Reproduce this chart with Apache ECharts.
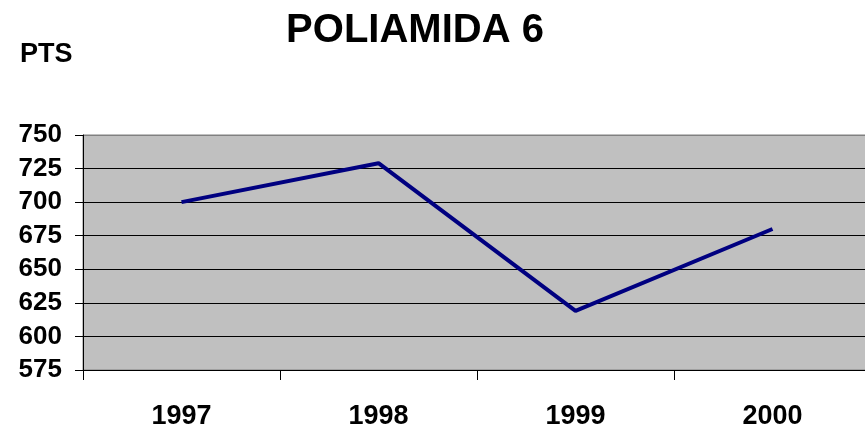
<!DOCTYPE html>
<html>
<head>
<meta charset="utf-8">
<title>POLIAMIDA 6</title>
<script src="https://cdn.jsdelivr.net/npm/echarts@6/dist/echarts.min.js"></script>
<style>
  html, body { margin: 0; padding: 0; background: #fff; overflow: hidden; }
  /* el área del gráfico sale un poco por la derecha, como en el original */
  #chart { width: 872px; height: 430px; }
</style>
</head>
<body>
<div id="chart"></div>
<script>
// datos
const years = ["1997", "1998", "1999", "2000"];
const pts = [700, 729, 619, 680];
const yMin = 575;
const yMax = 750;
const yStep = 25;

const font = "'Liberation Sans', Arial, sans-serif";
const chart = echarts.init(document.getElementById("chart"));

chart.setOption({
  animation: false,
  title: {
    text: "POLIAMIDA 6",
    left: 410,
    top: 6,
    textAlign: "center",
    textStyle: { fontFamily: font, fontWeight: "bold", fontSize: 40, color: "#000" },
  },
  graphic: [
    {
      type: "text",
      left: 20,
      top: 41,
      style: { text: "PTS", fontFamily: font, fontWeight: "bold", fontSize: 27, fill: "#000" },
    },
  ],
  grid: {
    left: 83,
    top: 135,
    right: 1,
    bottom: 59,
    show: true,
    backgroundColor: "#c0c0c0",
    borderColor: "#808080",
    borderWidth: 1,
  },
  xAxis: {
    type: "category",
    data: years,
    boundaryGap: true,
    axisLine: { lineStyle: { color: "#000", width: 1 } },
    axisTick: { show: true, length: 10, lineStyle: { color: "#000" } },
    axisLabel: {
      margin: 33,
      fontFamily: font,
      fontWeight: "bold",
      fontSize: 27,
      color: "#000",
    },
  },
  yAxis: {
    type: "value",
    min: yMin,
    max: yMax,
    interval: yStep,
    axisLine: { show: true, lineStyle: { color: "#000", width: 1 } },
    axisTick: { show: true, length: 8, lineStyle: { color: "#000" } },
    splitLine: {
      show: true,
      lineStyle: {
        color: ["#000", "#000", "#000", "#000", "#000", "#000", "#000", "#808080"],
        width: 1,
      },
    },
    axisLabel: {
      margin: 21,
      fontFamily: font,
      fontWeight: "bold",
      fontSize: 26,
      color: "#000",
    },
  },
  series: [
    {
      name: "PTS",
      type: "line",
      data: pts,
      symbol: "none",
      lineStyle: { color: "#000080", width: 4 },
    },
  ],
});
</script>
</body>
</html>
